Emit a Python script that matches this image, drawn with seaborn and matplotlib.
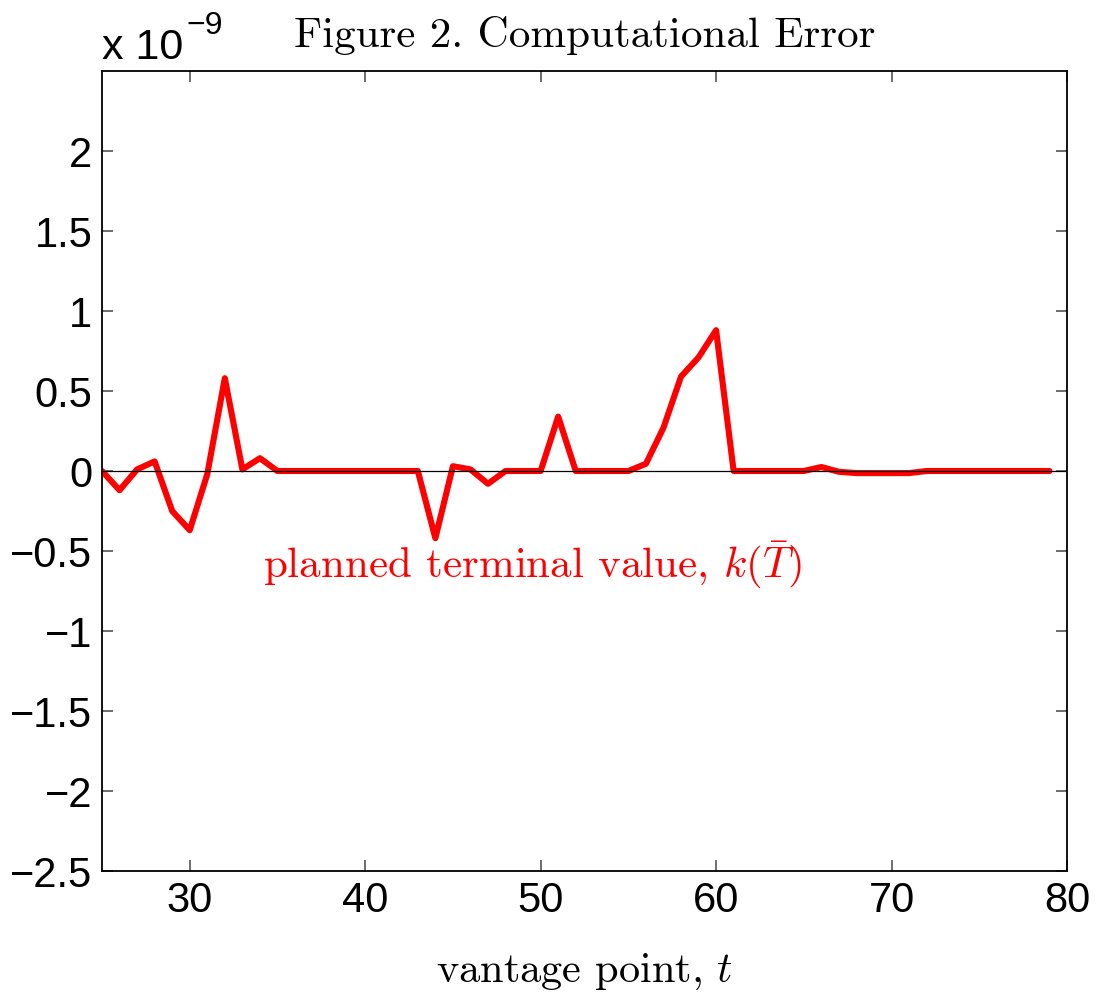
import matplotlib
matplotlib.use("Agg")
import matplotlib.pyplot as plt
import seaborn as sns
import numpy as np
import pandas as pd

# Data (values in units of 1e-9)
vantage = list(range(25, 80))
error_e9 = [0.0, -0.12, 0.01, 0.06, -0.25, -0.37, -0.02, 0.58, 0.01, 0.08,
            0.0, 0.0, 0.0, 0.0, 0.0, 0.0, 0.0, 0.0, 0.0, -0.42,
            0.03, 0.01, -0.08, 0.0, 0.0, 0.0, 0.34, 0.0, 0.0, 0.0,
            0.0, 0.045, 0.27, 0.59, 0.71, 0.88, 0.0, 0.0, 0.0, 0.0,
            0.0, 0.025, -0.005, -0.013, -0.013, -0.013, -0.013, 0.0, 0.0, 0.0,
            0.0, 0.0, 0.0, 0.0, 0.0]
x_ticks = [30, 40, 50, 60, 70, 80]
y_ticks = [-2.5, -2, -1.5, -1, -0.5, 0, 0.5, 1, 1.5, 2]
y_tick_labels = ["\u22122.5", "\u22122", "\u22121.5", "\u22121", "\u22120.5",
                 "0", "0.5", "1", "1.5", "2"]

title_text = "Figure 2. Computational Error"
xlabel_text = "vantage point, $t$"
annot_text = r"planned terminal value, $k(\bar{T})$"

sns.set_style("ticks")
plt.rcParams["mathtext.fontset"] = "cm"
plt.rcParams["font.family"] = ["Liberation Sans", "DejaVu Sans"]
for key in ["text.color", "axes.labelcolor", "xtick.labelcolor", "ytick.labelcolor"]:
    plt.rcParams[key] = "black"

df = pd.DataFrame({"t": vantage, "err": error_e9})

fig = plt.figure(figsize=(10.99, 9.92), dpi=100)
ax = fig.add_axes([102 / 1099, 1 - 871 / 992, (1067 - 102) / 1099, (871 - 71) / 992])

sns.lineplot(data=df, x="t", y="err", ax=ax, color="#ff0000", linewidth=4.4,
             zorder=2)
ax.axhline(0, color="black", linewidth=0.9, zorder=3)

ax.set_xlim(25, 80)
ax.set_ylim(-2.5, 2.5)
ax.set_xticks(x_ticks)
ax.set_xticklabels([str(v) for v in x_ticks])
ax.set_yticks(y_ticks)
ax.set_yticklabels(y_tick_labels)
ax.tick_params(direction="in", length=8, width=1.2, color="#555555",
               labelcolor="black", labelsize=30, top=True, right=True, pad=7)
ax.tick_params(axis="y", pad=7)
for sp in ax.spines.values():
    sp.set_visible(True)
    sp.set_linewidth(1.3)
    sp.set_color("black")

ax.set_xlabel(xlabel_text, fontsize=30.5, family="cmr10", labelpad=22,
              color="black")
ax.set_ylabel("")
ax.set_title(title_text, fontsize=31, family="cmr10", pad=17, color="black")

ax.text(34.17, -0.666, annot_text, color="#ff0000", fontsize=31,
        family="cmr10", ha="left", va="baseline")

fig.text(102 / 1099, 1 - 59 / 992, "x 10", fontsize=31, ha="left",
         va="baseline", color="black",
         family=["Liberation Sans", "DejaVu Sans"])
fig.text(186 / 1099, 1 - 34 / 992, "\u22129", fontsize=23, ha="left",
         va="baseline", color="black",
         family=["Liberation Sans", "DejaVu Sans"])

fig.savefig("out.png", dpi=100)
